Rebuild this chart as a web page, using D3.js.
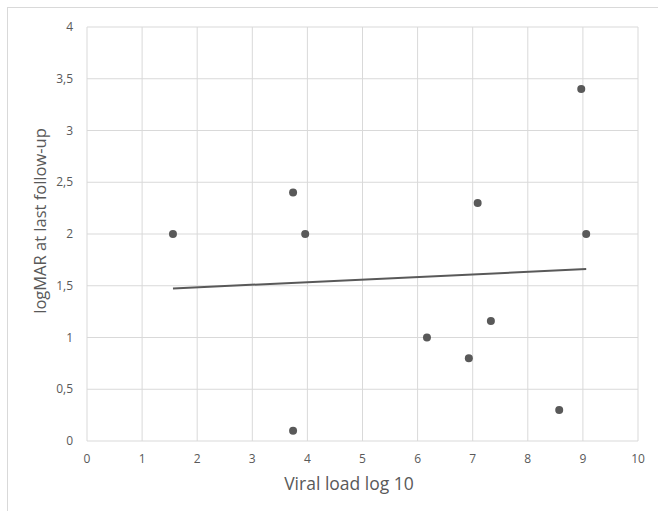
<!DOCTYPE html>
<html>
<head>
<meta charset="utf-8">
<script src="https://cdn.jsdelivr.net/npm/d3@7"></script>
<style>
  html, body { margin: 0; padding: 0; background: #fff; }
  text { font-family: "Open Sans", "Liberation Sans", sans-serif; fill: #595959; }
</style>
</head>
<body>
<div id="chart"></div>
<script>
// data
const viral_load = [1.56, 3.74, 3.96, 3.74, 6.17, 6.93, 7.33, 7.09, 8.97, 9.06, 8.57];
const logmar = [2.0, 2.4, 2.0, 0.1, 1.0, 0.8, 1.16, 2.3, 3.4, 2.0, 0.3];
const x_ticks = [0, 1, 2, 3, 4, 5, 6, 7, 8, 9, 10];
const y_ticks = [0, 0.5, 1, 1.5, 2, 2.5, 3, 3.5, 4];

const width = 658, height = 511;
const margin = { top: 27, right: 20, bottom: 70, left: 87 };

const data = viral_load.map((v, i) => ({ x: v, y: logmar[i] }));

const svg = d3.select("#chart").append("svg")
    .attr("width", width)
    .attr("height", height);

// outer chart border (only top and left show in the picture)
svg.append("rect")
    .attr("x", 7.5).attr("y", 7.5)
    .attr("width", width + 20).attr("height", height + 20)
    .attr("fill", "none")
    .attr("stroke", "#d9d9d9");

const x = d3.scaleLinear().domain([0, 10]).range([margin.left, 638]);
const y = d3.scaleLinear().domain([0, 4]).range([441, margin.top]);

const fmt = d => String(d).replace(".", ",");

// grid
svg.append("g").selectAll("line")
    .data(x_ticks)
    .join("line")
    .attr("x1", d => x(d)).attr("x2", d => x(d))
    .attr("y1", y(0)).attr("y2", y(4))
    .attr("stroke", "#d9d9d9").attr("stroke-width", 1);
svg.append("g").selectAll("line")
    .data(y_ticks)
    .join("line")
    .attr("x1", x(0)).attr("x2", x(10))
    .attr("y1", d => y(d)).attr("y2", d => y(d))
    .attr("stroke", "#d9d9d9").attr("stroke-width", 1);

// tick labels
svg.append("g").selectAll("text")
    .data(x_ticks)
    .join("text")
    .attr("x", d => x(d))
    .attr("y", 463)
    .attr("text-anchor", "middle")
    .style("font-size", "12px")
    .text(fmt);
svg.append("g").selectAll("text")
    .data(y_ticks)
    .join("text")
    .attr("x", 73)
    .attr("y", d => y(d) + 4)
    .attr("text-anchor", "end")
    .style("font-size", "12px")
    .text(fmt);

// axis titles
svg.append("text")
    .attr("x", 349).attr("y", 490)
    .attr("text-anchor", "middle")
    .style("font-size", "17.5px")
    .text("Viral load log 10");
svg.append("text")
    .attr("transform", "translate(46,221) rotate(-90)")
    .attr("text-anchor", "middle")
    .style("font-size", "16.5px")
    .text("logMAR at last follow-up");

// linear trendline (least squares, like Excel)
const mx = d3.mean(data, d => d.x), my = d3.mean(data, d => d.y);
const slope = d3.sum(data, d => (d.x - mx) * (d.y - my)) / d3.sum(data, d => (d.x - mx) ** 2);
const x_ext = d3.extent(data, d => d.x);
svg.append("line")
    .attr("x1", x(x_ext[0])).attr("y1", y(my + slope * (x_ext[0] - mx)))
    .attr("x2", x(x_ext[1])).attr("y2", y(my + slope * (x_ext[1] - mx)))
    .attr("stroke", "#595959")
    .attr("stroke-width", 2);

// points
svg.append("g").selectAll("circle")
    .data(data)
    .join("circle")
    .attr("cx", d => x(d.x))
    .attr("cy", d => y(d.y))
    .attr("r", 4)
    .attr("fill", "#595959");
</script>
</body>
</html>
